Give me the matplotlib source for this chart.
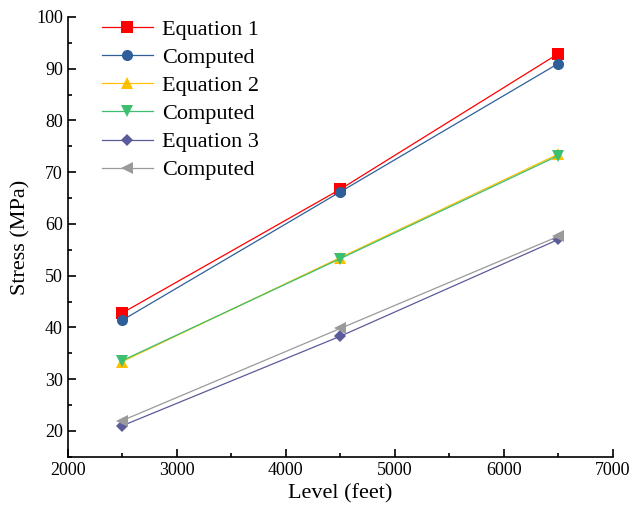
import matplotlib
matplotlib.use('Agg')
import matplotlib.pyplot as plt
from matplotlib.ticker import MultipleLocator

# Data
level = [2500, 4500, 6500]
eq1 = [42.8, 66.7, 92.9]
comp1 = [41.4, 66.2, 91.0]
eq2 = [33.4, 53.5, 73.5]
comp2 = [33.6, 53.3, 73.2]
eq3 = [21.0, 38.3, 57.0]
comp3 = [22.0, 39.8, 57.6]

plt.rcParams['font.family'] = 'Liberation Serif'

fig = plt.figure(figsize=(6.33, 5.15), dpi=100)
ax = fig.add_axes([0.107, 0.113, 0.861, 0.854])

series = [
    (eq1, 'Equation 1', '#ff0000', 's'),
    (comp1, 'Computed', '#2f5f98', 'o'),
    (eq2, 'Equation 2', '#ffc000', '^'),
    (comp2, 'Computed', '#3cbf6e', 'v'),
    (eq3, 'Equation 3', '#5b5b9b', 'D'),
    (comp3, 'Computed', '#9a9a9a', '<'),
]
for vals, lab, col, mk in series:
    ms = 6 if mk == 'D' else 8
    ax.plot(level, vals, color=col, lw=0.9, marker=mk, ms=ms,
            markeredgewidth=0, label=lab)

ax.set_xlim(2000, 7000)
ax.set_ylim(15, 100)
ax.xaxis.set_major_locator(MultipleLocator(1000))
ax.xaxis.set_minor_locator(MultipleLocator(500))
ax.yaxis.set_major_locator(MultipleLocator(10))
ax.yaxis.set_minor_locator(MultipleLocator(5))
ax.yaxis.set_major_formatter(matplotlib.ticker.FuncFormatter(lambda v, p: '' if v < 20 else f'{v:.0f}'))
ax.tick_params(which='major', direction='in', length=6, width=1.2, labelsize=13)
ax.tick_params(which='minor', direction='in', length=3, width=1.2)
for s in ['top', 'right']:
    ax.spines[s].set_visible(False)
for s in ['left', 'bottom']:
    ax.spines[s].set_linewidth(1.2)

ax.set_xlabel('Level (feet)', fontsize=16)
ax.set_ylabel('Stress (MPa)', fontsize=16)

ax.legend(loc='upper left', frameon=False, fontsize=16, handlelength=2.3,
          labelspacing=0.34, handletextpad=0.4, borderaxespad=0.2,
          bbox_to_anchor=(0.038, 1.025))

fig.savefig('out.png', dpi=100)
